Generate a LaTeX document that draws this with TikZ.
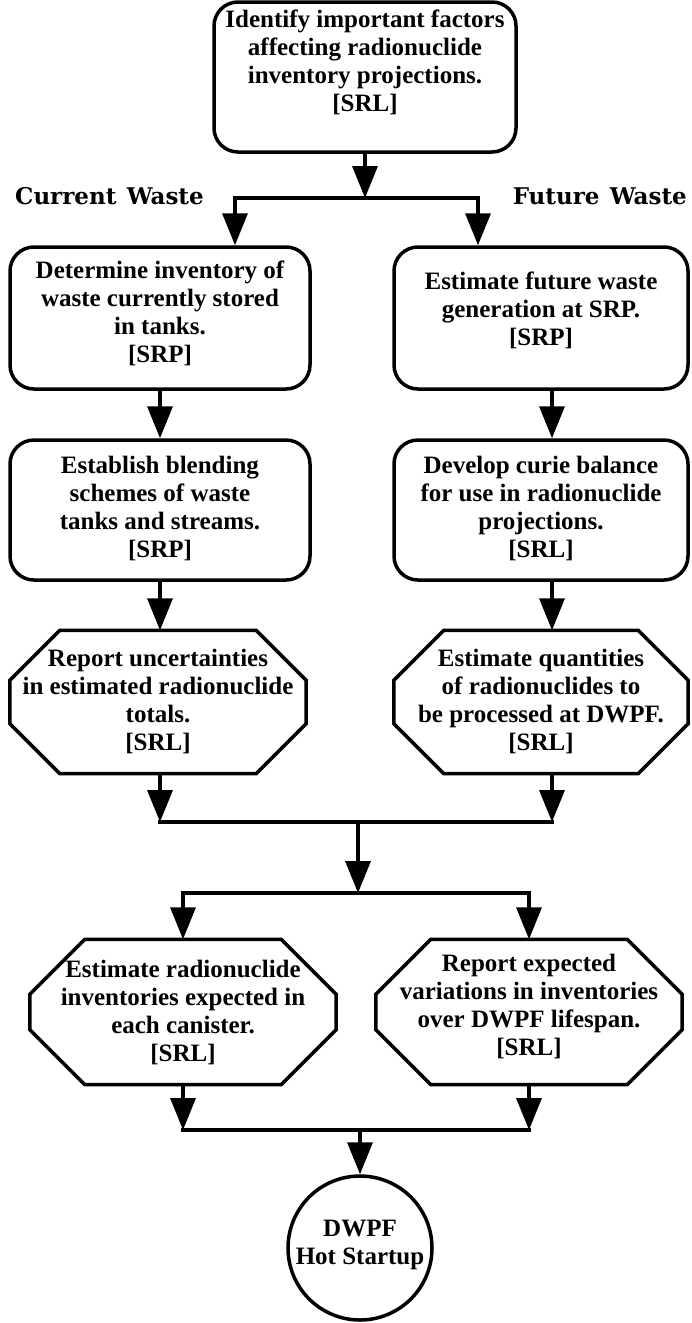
\documentclass[tikz,border=0pt]{standalone}
\usepackage{fontspec}
\setmainfont{Liberation Serif}
\newfontfamily\headfont{DejaVu Serif}
\usetikzlibrary{arrows.meta,calc}

% chamfered frame drawn round an (empty) node: #1 node name, #2 chamfer
\newcommand\octframe[2]{%
  \draw[edge, line join=miter]
    ($(#1.north west)+(#2,0)$) -- ($(#1.north east)+(-#2,0)$) --
    ($(#1.north east)+(0,#2)$) -- ($(#1.south east)+(0,-#2)$) --
    ($(#1.south east)+(-#2,0)$) -- ($(#1.south west)+(#2,0)$) --
    ($(#1.south west)+(0,-#2)$) -- ($(#1.north west)+(0,#2)$) -- cycle;}

\begin{document}
\begin{tikzpicture}[x=1pt,y=-1pt,
  txt/.style={font=\bfseries\fontsize{25}{28}\selectfont, align=center, inner sep=0pt},
  head/.style={font=\headfont\bfseries\fontsize{23}{25}\selectfont, inner sep=0pt},
  edge/.style={line width=3.5pt},
  rbox/.style={draw, edge, rectangle, rounded corners=24pt, inner sep=0pt},
  slot/.style={rectangle, inner sep=0pt},
  arr/.style={edge, -{Triangle[length=32pt,width=25pt]}},
  wire/.style={edge, line cap=rect},
]
\useasboundingbox (0,0) rectangle (691,1323);

% ---- frames ----
\node[rbox, minimum width=302pt, minimum height=150pt] (top) at (365,77) {};
\node[rbox, minimum width=300pt, minimum height=142pt] (l1) at (160,318) {};
\node[rbox, minimum width=294pt, minimum height=142pt] (r1) at (541,318) {};
\node[rbox, minimum width=300pt, minimum height=140pt] (l2) at (160,510) {};
\node[rbox, minimum width=294pt, minimum height=140pt] (r2) at (541,510) {};
\node[slot, minimum width=296pt, minimum height=143pt] (l3) at (158,702) {};
\node[slot, minimum width=294pt, minimum height=143pt] (r3) at (541,702) {};
\node[slot, minimum width=306pt, minimum height=145pt] (b1) at (183,1012) {};
\node[slot, minimum width=306pt, minimum height=145pt] (b2) at (529,1012) {};
\octframe{l3}{50}
\octframe{r3}{50}
\octframe{b1}{55}
\octframe{b2}{55}
\node[draw, edge, circle, minimum size=144pt, inner sep=0pt] (hot) at (360,1248) {};

% ---- texts ----
\node[txt] (top-t) at (365,62) {Identify important factors\\affecting radionuclide\\inventory projections.\\{[SRL]}};
\node[txt] (l1-t) at (160,313) {Determine inventory of\\waste currently stored\\in tanks.\\{[SRP]}};
\node[txt] (r1-t) at (541,310) {Estimate future waste\\generation at SRP.\\{[SRP]}};
\node[txt] (l2-t) at (160,508) {Establish blending\\schemes of waste\\tanks and streams.\\{[SRP]}};
\node[txt] (r2-t) at (541,508) {Develop curie balance\\for use in radionuclide\\projections.\\{[SRL]}};
\node[txt] (l3-t) at (158,701) {Report uncertainties\\in estimated radionuclide\\totals.\\{[SRL]}};
\node[txt] (r3-t) at (541,701) {Estimate quantities\\of radionuclides to\\be processed at DWPF.\\{[SRL]}};
\node[txt] (b1-t) at (183,1012) {Estimate radionuclide\\inventories expected in\\each canister.\\{[SRL]}};
\node[txt] (b2-t) at (529,1006) {Report expected\\variations in inventories\\over DWPF lifespan.\\{[SRL]}};
\node[txt] (hot-t) at (360,1245) {DWPF\\Hot Startup};

\node[head, anchor=west] (cur) at (15,196) {Current\hspace{0.45em}Waste};
\node[head, anchor=east] (fut) at (687,196) {Future\hspace{0.45em}Waste};

% ---- axes of the connectors ----
\coordinate (j1) at (365,198);
\coordinate (aL) at (235,0);
\coordinate (aR) at (478,0);
\coordinate (cL) at (160,0);
\coordinate (cR) at (552,0);
\coordinate (mL) at (160,822);
\coordinate (mR) at (552,822);
\coordinate (mC) at (358,822);
\coordinate (j2) at (358,893);
\coordinate (dL) at (183,1130);
\coordinate (dR) at (529,1130);
\coordinate (dC) at (360,1130);

% ---- connectors ----
\draw[arr] (top.south -| j1) -- (j1);
\draw[arr] (j1) -| (l1.north -| aL);
\draw[arr] (j1) -| (r1.north -| aR);

\draw[arr] (l1.south -| cL) -- (l2.north -| cL);
\draw[arr] (r1.south -| cR) -- (r2.north -| cR);
\draw[arr] (l2.south -| cL) -- (l3.north -| cL);
\draw[arr] (r2.south -| cR) -- (r3.north -| cR);

\draw[arr] (l3.south -| cL) -- (mL);
\draw[arr] (r3.south -| cR) -- (mR);
\draw[wire] (mL) -- (mR);
\draw[arr] (mC) -- (j2);
\draw[arr] (j2) -| (b1.north);
\draw[arr] (j2) -| (b2.north);

\draw[arr] (b1.south) -- (dL);
\draw[arr] (b2.south) -- (dR);
\draw[wire] (dL) -- (dR);
\draw[arr] (dC) -- (hot.north);
\end{tikzpicture}
\end{document}
